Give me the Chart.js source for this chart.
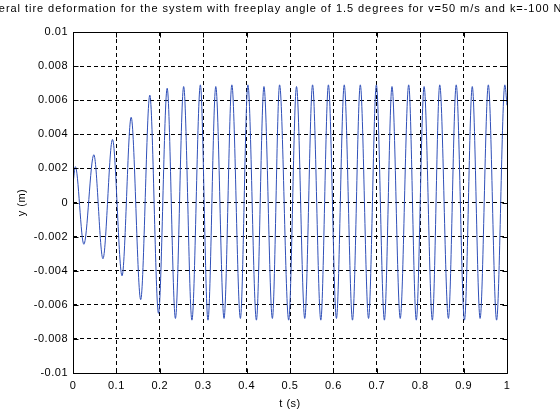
<!DOCTYPE html>
<html><head><meta charset="utf-8">
<script src="https://cdn.jsdelivr.net/npm/chart.js@4/dist/chart.umd.min.js"></script>
<style>html,body{margin:0;padding:0;background:#fff;}#wrap{width:560px;height:420px;position:relative}</style>
</head><body><div id="wrap"><canvas id="c" width="560" height="420"></canvas></div>
<script>
const titleText = 'Lateral tire deformation for the system with freeplay angle of 1.5 degrees for v=50 m/s and k=-100 Nm/rad';
const xLabel = 't (s)';
const yLabel = 'y (m)';
const xTickValues = [0, 0.1, 0.2, 0.3, 0.4, 0.5, 0.6, 0.7, 0.8, 0.9, 1];
const xTickLabels = ['0', '0.1', '0.2', '0.3', '0.4', '0.5', '0.6', '0.7', '0.8', '0.9', '1'];
const yTickValues = [-0.01, -0.008, -0.006, -0.004, -0.002, 0, 0.002, 0.004, 0.006, 0.008, 0.01];
const yTickLabels = ['-0.01', '-0.008', '-0.006', '-0.004', '-0.002', '0', '0.002', '0.004', '0.006', '0.008', '0.01'];
// time of start, each peak / trough, and end (s)
const tValues = [0, 0.0055, 0.025, 0.048, 0.069, 0.091, 0.113, 0.134, 0.156, 0.177, 0.197, 0.217, 0.236, 0.255, 0.274, 0.2935, 0.311, 0.329, 0.348, 0.366, 0.3857, 0.403, 0.4226, 0.440, 0.4594, 0.476, 0.497, 0.515, 0.534, 0.552, 0.571, 0.5885, 0.607, 0.625, 0.644, 0.662, 0.681, 0.699, 0.7175, 0.735, 0.754, 0.7735, 0.791, 0.809, 0.828, 0.845, 0.865, 0.883, 0.902, 0.920, 0.938, 0.957, 0.976, 0.995, 1.0];
// lateral deformation (m)
const yValues = [0.0011, 0.0021, -0.00245, 0.0028, -0.0033, 0.0037, -0.0043, 0.0050, -0.0057, 0.0063, -0.0065, 0.0067, -0.0068, 0.0068, -0.0069, 0.0069, -0.0069, 0.0068, -0.0068, 0.0069, -0.0068, 0.0069, -0.0069, 0.0068, -0.0068, 0.0069, -0.0069, 0.0068, -0.0068, 0.0069, -0.0069, 0.0069, -0.0068, 0.0069, -0.0069, 0.0069, -0.0068, 0.0069, -0.0069, 0.0068, -0.0068, 0.0069, -0.0069, 0.0068, -0.0069, 0.0069, -0.0068, 0.0069, -0.0069, 0.0068, -0.0068, 0.0069, -0.0069, 0.0069, 0.0057];

const FONT = '"Liberation Sans", Arial, Helvetica, sans-serif';

const boxPlugin = {
  id: 'matlabBox',
  beforeDraw(chart) {
    chart.ctx.letterSpacing = '0.5px';
  },
  afterDraw(chart) {
    const {ctx, chartArea: a, scales} = chart;
    ctx.save();
    ctx.setLineDash([]);
    ctx.strokeStyle = '#000';
    ctx.lineWidth = 1;
    const L = Math.round(a.left) + 0.5, R = Math.round(a.right) + 0.5, T = Math.round(a.top) + 0.5, B = Math.round(a.bottom) + 0.5;
    ctx.beginPath();
    ctx.rect(L, T, R - L, B - T);
    const tl = 5;
    xTickValues.forEach(v => {
      const x = Math.round(scales.x.getPixelForValue(v)) + 0.5;
      ctx.moveTo(x, B); ctx.lineTo(x, B - tl);
      ctx.moveTo(x, T); ctx.lineTo(x, T + tl);
    });
    yTickValues.forEach(v => {
      const y = Math.round(scales.y.getPixelForValue(v)) + 0.5;
      ctx.moveTo(L, y); ctx.lineTo(L + tl, y);
      ctx.moveTo(R, y); ctx.lineTo(R - tl, y);
    });
    ctx.stroke();
    ctx.fillStyle = '#000';
    ctx.font = '11px ' + FONT;
    ctx.letterSpacing = '0.95px';
    ctx.textAlign = 'center';
    ctx.textBaseline = 'middle';
    ctx.fillText(titleText, (a.left + a.right) / 2 - 2, 9);
    ctx.restore();
    ctx.letterSpacing = '0px';
  }
};

const gridOpts = { color: '#000', lineWidth: 1, drawTicks: false };

new Chart(document.getElementById('c'), {
  type: 'line',
  data: {
    datasets: [{
      data: tValues.map((t, i) => ({x: t, y: yValues[i]})),
      borderColor: '#2f4fb8',
      borderWidth: 1,
      pointRadius: 0,
      fill: false,
      cubicInterpolationMode: 'monotone'
    }]
  },
  options: {
    responsive: false,
    devicePixelRatio: 1,
    animation: false,
    events: [],
    layout: { padding: { top: 32, right: 53, left: 0, bottom: 0 } },
    plugins: { legend: { display: false }, title: { display: false }, tooltip: { enabled: false } },
    scales: {
      x: {
        type: 'linear', min: 0, max: 1,
        afterBuildTicks: s => { s.ticks = xTickValues.map(v => ({value: v})); },
        afterFit: s => { s.height = 47; },
        grid: gridOpts,
        border: { display: false, dash: [4, 3] },
        ticks: { color: '#000', font: { family: FONT, size: 11 }, padding: 6, maxRotation: 0,
          callback: (v, i) => xTickLabels[i] },
        title: { display: true, text: xLabel, color: '#000', font: { family: FONT, size: 11 }, padding: { top: 0, bottom: 9 } }
      },
      y: {
        type: 'linear', min: -0.01, max: 0.01,
        afterBuildTicks: s => { s.ticks = yTickValues.map(v => ({value: v})); },
        afterFit: s => { s.width = 73; },
        grid: gridOpts,
        border: { display: false, dash: [4, 3] },
        ticks: { color: '#000', font: { family: FONT, size: 11 }, padding: 5,
          callback: (v, i) => yTickLabels[i] },
        title: { display: true, text: yLabel, color: '#000', font: { family: FONT, size: 11 }, padding: { top: 15, bottom: 0 } }
      }
    }
  },
  plugins: [boxPlugin]
});
</script>
</body></html>
